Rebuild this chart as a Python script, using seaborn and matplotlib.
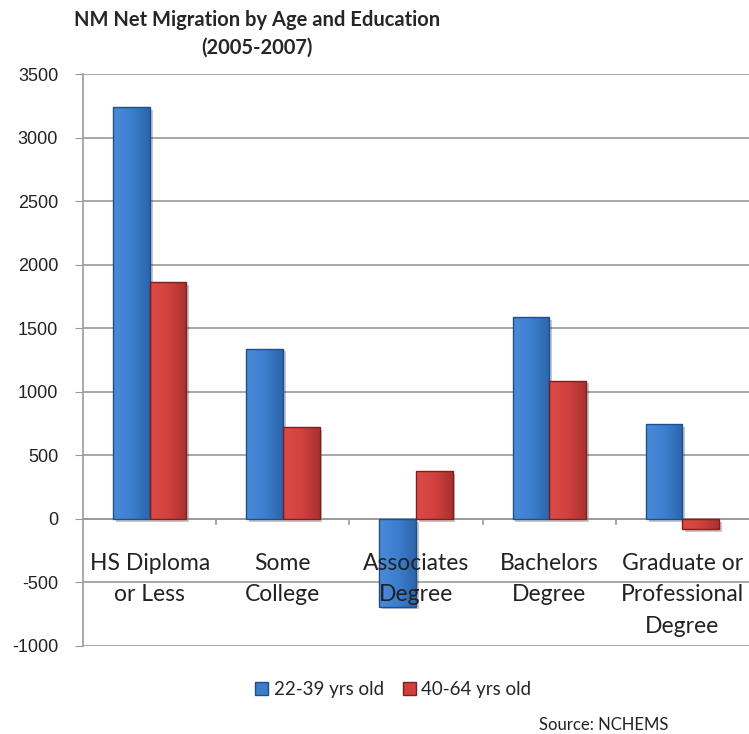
import numpy as np
import pandas as pd
import seaborn as sns
import matplotlib.pyplot as plt
import matplotlib.patheffects as pe
from matplotlib.colors import LinearSegmentedColormap

# data
categories = ["HS Diploma\nor Less", "Some\nCollege", "Associates\nDegree",
              "Bachelors\nDegree", "Graduate or\nProfessional\nDegree"]
age_groups = ["22-39 yrs old", "40-64 yrs old"]
young = [3240, 1340, -690, 1585, 745]
older = [1865, 720, 375, 1088, -80]

df = pd.DataFrame({
    "category": categories * 2,
    "group": [age_groups[0]] * 5 + [age_groups[1]] * 5,
    "value": young + older,
})

sns.set_style("white")
plt.rcParams['font.family'] = ['Liberation Sans', 'DejaVu Sans']
plt.rcParams['axes.unicode_minus'] = False

fig = plt.figure(figsize=(7.49, 7.34), dpi=100)
ax = fig.add_axes([0.111, 0.12, 0.889, 0.779])

palette = {age_groups[0]: "#3b7ccb", age_groups[1]: "#cf3f3d"}
sns.barplot(data=df, x="category", y="value", hue="group", palette=palette,
            width=0.55, saturation=1, ax=ax, legend=False)

ax.set_ylim(-1000, 3500)
ax.set_xlim(-0.5, 4.5)

# office-style shading: lighter on the left, darker on the right
shades = {
    age_groups[0]: LinearSegmentedColormap.from_list(
        "b", ["#4a8bd9", "#3d7fcf", "#2c65ab"]),
    age_groups[1]: LinearSegmentedColormap.from_list(
        "r", ["#dc4b47", "#d1413e", "#a83230"]),
}
edges = {age_groups[0]: "#1f4f8a", age_groups[1]: "#7c1f1e"}
grad = np.linspace(0, 1, 64).reshape(1, -1)
bar_groups = [age_groups[0]] * 5 + [age_groups[1]] * 5
for bar, g in zip(list(ax.patches), bar_groups):
    bar.set_edgecolor("none")
    bar.set_path_effects([pe.SimplePatchShadow(offset=(2, -2), alpha=0.25),
                          pe.Normal()])
    x0, y0 = bar.get_x(), bar.get_y()
    w, h = bar.get_width(), bar.get_height()
    im = ax.imshow(grad, cmap=shades[g], aspect="auto",
                   extent=[x0, x0 + w, min(y0, y0 + h), max(y0, y0 + h)],
                   zorder=bar.get_zorder() + 0.1)
    im.set_clip_path(bar)
    ax.add_patch(plt.Rectangle((x0, y0), w, h, fill=False, edgecolor=edges[g],
                               linewidth=1, zorder=bar.get_zorder() + 0.2))

ax.set_ylim(-1000, 3500)
ax.set_xlim(-0.5, 4.5)
ax.set_yticks(range(-1000, 3501, 500))
ax.yaxis.grid(True, color="#9a9a9a", linewidth=1.2)
ax.set_axisbelow(True)
ax.set_xticks([])
ax.set_xlabel("")
ax.set_ylabel("")
ax.tick_params(axis="y", left=True, length=6, color="#9a9a9a",
               labelsize=13, pad=12, labelcolor="#222222")

for s in ["top", "right", "bottom"]:
    ax.spines[s].set_visible(False)
ax.spines["left"].set_color("#9a9a9a")
ax.spines["left"].set_linewidth(1.2)

# zero line and category separators
ax.axhline(0, color="#9a9a9a", linewidth=1.2, zorder=1)
ax.vlines([0.5, 1.5, 2.5, 3.5], -50, 0, color="#9a9a9a", linewidth=1.2)

# category labels sit just under the zero line
for i, c in enumerate(categories):
    ax.text(i, -265, c, ha="center", va="top", fontsize=16.5,
            family=['Lato', 'DejaVu Sans'], color="#222222",
            linespacing=1.62, zorder=5)

fig.text(0.343, 0.986, "NM Net Migration by Age and Education\n(2005-2007)",
         ha="center", va="top", fontweight="bold", linespacing=1.45,
         family=['Lato', 'DejaVu Sans'], fontsize=14.5)

handles = [plt.Rectangle((0, 0), 1, 1, facecolor=palette[g], edgecolor=edges[g])
           for g in age_groups]
fig.legend(handles, age_groups, loc="center", bbox_to_anchor=(0.525, 0.06),
           ncol=2, frameon=False, handlelength=0.7, handleheight=0.7,
           handletextpad=0.3, columnspacing=1.0,
           prop={'family': ['Lato', 'DejaVu Sans'], 'size': 13.5})

fig.text(0.72, 0.005, "Source: NCHEMS", fontsize=12,
         family=['Lato', 'DejaVu Sans'], color="#222222")

fig.savefig("out.png", dpi=100)
